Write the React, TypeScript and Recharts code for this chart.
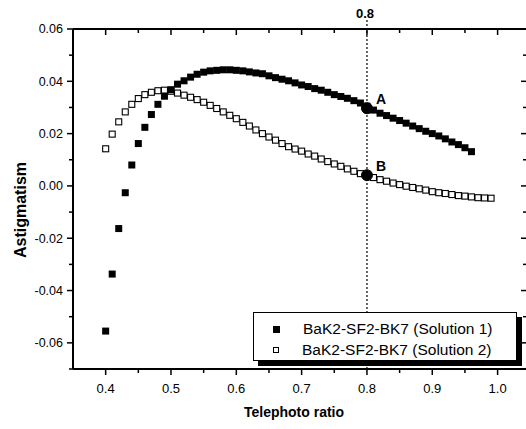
import { ScatterChart, Scatter, XAxis, YAxis, ReferenceLine, ReferenceDot } from "recharts";

// telephoto ratio / astigmatism
const ratioSolution1 = [
  0.40, 0.41, 0.42, 0.43, 0.44, 0.45, 0.46, 0.47, 0.48, 0.49,
  0.50, 0.51, 0.52, 0.53, 0.54, 0.55, 0.56, 0.57, 0.58, 0.59,
  0.60, 0.61, 0.62, 0.63, 0.64, 0.65, 0.66, 0.67, 0.68, 0.69,
  0.70, 0.71, 0.72, 0.73, 0.74, 0.75, 0.76, 0.77, 0.78, 0.79,
  0.80, 0.81, 0.82, 0.83, 0.84, 0.85, 0.86, 0.87, 0.88, 0.89,
  0.90, 0.91, 0.92, 0.93, 0.94, 0.95, 0.96,
];
const astigSolution1 = [
  -0.0555, -0.0337, -0.0163, -0.0026, 0.008, 0.0162, 0.0224, 0.0273, 0.0312, 0.0343,
  0.0368, 0.0389, 0.0402, 0.0416, 0.0427, 0.0435, 0.044, 0.0442, 0.0444, 0.0444,
  0.0442, 0.044, 0.0436, 0.0432, 0.0429, 0.0421, 0.0414, 0.0408, 0.0402, 0.0394,
  0.0386, 0.038, 0.0372, 0.0366, 0.0358, 0.0349, 0.0342, 0.0335, 0.0326, 0.0317,
  0.0305, 0.029, 0.0278, 0.0269, 0.0259, 0.025, 0.024, 0.0229, 0.0219, 0.0209,
  0.02, 0.0191, 0.018, 0.0168, 0.0158, 0.0146, 0.0131,
];

const ratioSolution2 = [
  0.40, 0.41, 0.42, 0.43, 0.44, 0.45, 0.46, 0.47, 0.48, 0.49,
  0.50, 0.51, 0.52, 0.53, 0.54, 0.55, 0.56, 0.57, 0.58, 0.59,
  0.60, 0.61, 0.62, 0.63, 0.64, 0.65, 0.66, 0.67, 0.68, 0.69,
  0.70, 0.71, 0.72, 0.73, 0.74, 0.75, 0.76, 0.77, 0.78, 0.79,
  0.80, 0.81, 0.82, 0.83, 0.84, 0.85, 0.86, 0.87, 0.88, 0.89,
  0.90, 0.91, 0.92, 0.93, 0.94, 0.95, 0.96, 0.97, 0.98, 0.99,
];
const astigSolution2 = [
  0.0142, 0.0198, 0.0245, 0.0283, 0.0312, 0.0334, 0.0349, 0.0358, 0.0364, 0.0366,
  0.0362, 0.0355, 0.0347, 0.0339, 0.033, 0.032, 0.0308, 0.0296, 0.0283, 0.027,
  0.0257, 0.0243, 0.0229, 0.0214, 0.02, 0.0187, 0.0175, 0.0162, 0.015, 0.0141,
  0.0133, 0.0122, 0.0114, 0.0103, 0.0093, 0.0084, 0.0075, 0.0065, 0.0056, 0.0047,
  0.0041, 0.0032, 0.0024, 0.0018, 0.0011, 0.0005, -0.0001, -0.0006, -0.0011, -0.0016,
  -0.0022, -0.0026, -0.0029, -0.0033, -0.0037, -0.0039, -0.0042, -0.0045, -0.0046, -0.0047,
];

const xDomain = [0.35, 1.045];
const yDomain = [-0.07, 0.06];
const xTicks = [0.4, 0.45, 0.5, 0.55, 0.6, 0.65, 0.7, 0.75, 0.8, 0.85, 0.9, 0.95, 1.0];
const yTicks = [-0.07, -0.06, -0.05, -0.04, -0.03, -0.02, -0.01, 0, 0.01, 0.02, 0.03, 0.04, 0.05, 0.06];

const markedRatio = 0.8;
const pointA = { ratio: 0.8, astig: 0.0297, name: "A" };
const pointB = { ratio: 0.8, astig: 0.0041, name: "B" };

const seriesNames = ["BaK2-SF2-BK7 (Solution 1)", "BaK2-SF2-BK7 (Solution 2)"];

const sol1 = ratioSolution1.map((x, i) => ({ x, y: astigSolution1[i] }));
const sol2 = ratioSolution2.map((x, i) => ({ x, y: astigSolution2[i] }));

const FONT = "'Liberation Sans', Arial, Helvetica, sans-serif";

// chart box
const W = 540;
const H = 429;
const M = { top: 29, right: 13, left: 13, bottom: 30 };
const X_AXIS_H = 30;
const Y_AXIS_W = 60;
const PLOT_TOP = M.top;
const PLOT_RIGHT = W - M.right;

const isMajorX = (v: number) => Math.round(v * 1000) % 100 === 0;
const isMajorY = (v: number) => Math.round(v * 100) % 2 === 0;

const FilledSquare = (p: any) => (
  <rect x={p.cx - 3.5} y={p.cy - 3.5} width={7} height={7} fill="#000" />
);
const OpenSquare = (p: any) => (
  <rect x={p.cx - 3} y={p.cy - 3} width={6} height={6} fill="#fff" stroke="#000" strokeWidth={1.1} />
);

// bottom ticks point down, mirrored ones on the top frame point down too
const BottomTick = ({ x, y, payload }: any) => {
  const major = isMajorX(payload.value);
  const len = major ? 6 : 4;
  return (
    <g>
      <line x1={x} x2={x} y1={y} y2={y + len} stroke="#000" strokeWidth={1.5} />
      <line x1={x} x2={x} y1={PLOT_TOP} y2={PLOT_TOP + len} stroke="#000" strokeWidth={1.5} />
      {major && (
        <text x={x} y={y + 24} textAnchor="middle" fontSize={13} fontFamily={FONT} fill="#000">
          {payload.value.toFixed(1)}
        </text>
      )}
    </g>
  );
};

// left ticks point left, mirrored ones on the right frame point left too
const LeftTick = ({ x, y, payload }: any) => {
  const major = isMajorY(payload.value);
  const len = major ? 6 : 4;
  return (
    <g>
      <line x1={x} x2={x - len} y1={y} y2={y} stroke="#000" strokeWidth={1.5} />
      <line x1={PLOT_RIGHT} x2={PLOT_RIGHT - len} y1={y} y2={y} stroke="#000" strokeWidth={1.5} />
      {major && (
        <text x={x - 10} y={y} dy="0.35em" textAnchor="end" fontSize={12.5} fontFamily={FONT} fill="#000">
          {payload.value.toFixed(2)}
        </text>
      )}
    </g>
  );
};

const pointLabel = (name: string) => ({ viewBox }: any) => {
  const cx = viewBox.x + viewBox.width / 2;
  const cy = viewBox.y + viewBox.height / 2;
  return (
    <text x={cx + 9} y={cy - 4} fontSize={14} fontWeight="bold" fontFamily={FONT} fill="#000">
      {name}
    </text>
  );
};

export default function App() {
  return (
    <div style={{ position: "absolute", left: 0, top: 0, width: 526, height: 429, overflow: "hidden", background: "#fff" }}>
      <ScatterChart width={W} height={H} margin={M}>
        <XAxis
          type="number"
          dataKey="x"
          domain={xDomain}
          ticks={xTicks}
          allowDataOverflow
          height={X_AXIS_H}
          tickSize={0}
          tickMargin={0}
          tickLine={false}
          tick={<BottomTick />}
          interval={0}
          axisLine={false}
          label={{
            content: () => (
              <text x={294} y={417} textAnchor="middle" fontSize={14} fontWeight="bold" fontFamily={FONT} fill="#000">
                Telephoto ratio
              </text>
            ),
          }}
        />
        <YAxis
          type="number"
          dataKey="y"
          domain={yDomain}
          ticks={yTicks}
          allowDataOverflow
          width={Y_AXIS_W}
          tickSize={0}
          tickMargin={0}
          tickLine={false}
          tick={<LeftTick />}
          interval={0}
          axisLine={false}
          label={{
            content: () => (
              <text
                x={26}
                y={210}
                transform="rotate(-90 26 210)"
                textAnchor="middle"
                fontSize={16}
                fontWeight="bold"
                fontFamily={FONT}
                fill="#000"
              >
                Astigmatism
              </text>
            ),
          }}
        />
        {/* frame */}
        <ReferenceLine y={yDomain[0]} stroke="#000" strokeWidth={2} />
        <ReferenceLine y={yDomain[1]} stroke="#000" strokeWidth={2} />
        <ReferenceLine x={xDomain[0]} stroke="#000" strokeWidth={2} />
        <ReferenceLine x={xDomain[1]} stroke="#000" strokeWidth={2} />
        <ReferenceLine
          x={markedRatio}
          stroke="#000"
          strokeWidth={1.2}
          strokeDasharray="2 2"
          label={{
            content: ({ viewBox }: any) => (
              <g>
                <line x1={viewBox.x} x2={viewBox.x} y1={viewBox.y - 9} y2={viewBox.y} stroke="#000" strokeWidth={1.2} strokeDasharray="2 2" />
                <text x={viewBox.x - 2} y={viewBox.y - 11} textAnchor="middle" fontSize={13} fontWeight="bold" fontFamily={FONT} fill="#000">
                  {markedRatio.toFixed(1)}
                </text>
              </g>
            ),
          }}
        />
        <Scatter name={seriesNames[1]} data={sol2} shape={<OpenSquare />} isAnimationActive={false} />
        <Scatter name={seriesNames[0]} data={sol1} shape={<FilledSquare />} isAnimationActive={false} />
        <ReferenceDot x={pointA.ratio} y={pointA.astig} r={5.5} fill="#000" stroke="#000" label={{ content: pointLabel(pointA.name) }} />
        <ReferenceDot x={pointB.ratio} y={pointB.astig} r={5.5} fill="#000" stroke="#000" label={{ content: pointLabel(pointB.name) }} />
      </ScatterChart>
      <div
        style={{
          position: "absolute",
          left: 253,
          top: 312,
          width: 264,
          height: 49,
          boxSizing: "border-box",
          border: "1px solid #000",
          background: "#fff",
          boxShadow: "5px 5px 0 #000",
          fontFamily: FONT,
          fontSize: 15.5,
          color: "#000",
        }}
      >
        {seriesNames.map((name, i) => (
          <div key={name} style={{ position: "absolute", left: 0, top: 6 + i * 21, height: 20, display: "flex", alignItems: "center", whiteSpace: "nowrap" }}>
            <span
              style={{
                display: "inline-block",
                marginLeft: 19,
                width: i === 0 ? 7 : 6,
                height: i === 0 ? 7 : 6,
                boxSizing: "border-box",
                background: i === 0 ? "#000" : "#fff",
                border: i === 0 ? "none" : "1px solid #000",
              }}
            />
            <span style={{ marginLeft: 23 }}>{name}</span>
          </div>
        ))}
      </div>
    </div>
  );
}
